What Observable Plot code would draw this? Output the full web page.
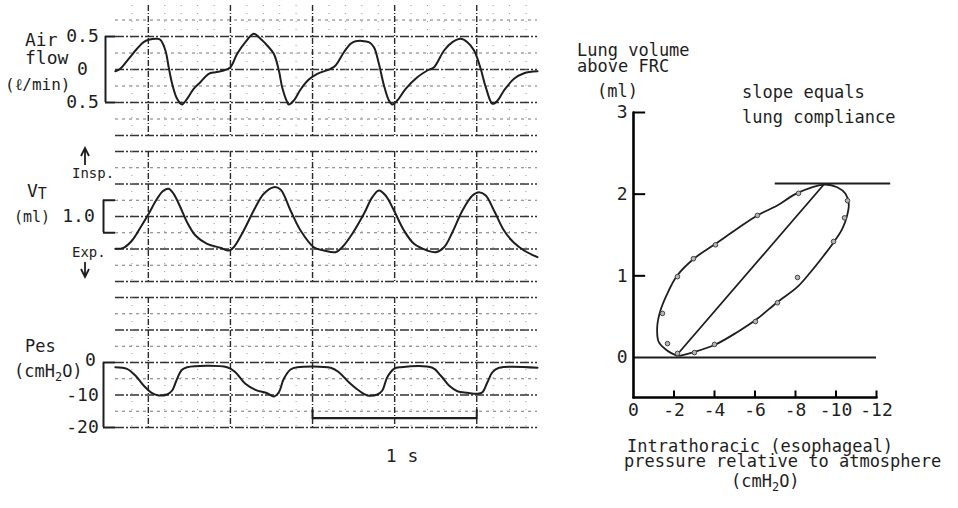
<!DOCTYPE html>
<html><head><meta charset="utf-8">
<script src="https://cdn.jsdelivr.net/npm/d3@7"></script>
<script src="https://cdn.jsdelivr.net/npm/@observablehq/plot@0.6"></script>
<style>
html,body{margin:0;padding:0;background:#fff;}
#fig{position:relative;width:958px;height:508px;overflow:hidden;background:#fff;font-family:"DejaVu Sans Mono",monospace;color:#1c1c1c;}
</style></head>
<body><div id="fig"></div>
<script>
// ---------------- DATA ----------------
// time in seconds (vertical grid every 0.5 s), values in panel units
const airflow = [ // l/min
 [-0.201,-0.026],[-0.171,0.011],[-0.120,0.162],[-0.069,0.314],[-0.029,0.414],[0.002,0.450],[0.053,0.465],[0.073,0.450],
 [0.104,0.288],[0.124,0.035],[0.145,-0.217],[0.175,-0.444],[0.205,-0.530],[0.236,-0.444],[0.276,-0.292],[0.317,-0.192],
 [0.368,-0.065],[0.409,-0.041],[0.459,-0.015],[0.500,0.035],[0.541,0.238],[0.591,0.414],[0.642,0.541],[0.683,0.465],
 [0.724,0.364],[0.764,0.238],[0.795,-0.015],[0.815,-0.268],[0.846,-0.495],[0.855,-0.530],[0.886,-0.470],[0.927,-0.303],
 [0.977,-0.152],[1.029,-0.065],[1.110,0.011],[1.140,0.061],[1.191,0.262],[1.232,0.389],[1.262,0.429],[1.343,0.414],
 [1.374,0.338],[1.404,0.086],[1.435,-0.242],[1.465,-0.470],[1.486,-0.530],[1.516,-0.470],[1.567,-0.292],[1.638,-0.117],
 [1.699,-0.015],[1.740,0.035],[1.801,0.288],[1.852,0.414],[1.902,0.465],[1.943,0.414],[1.984,0.288],[2.024,0.011],
 [2.055,-0.268],[2.096,-0.520],[2.127,-0.470],[2.166,-0.318],[2.227,-0.141],[2.288,-0.056],[2.370,-0.026]
];
const tidalVolume = [ // ml
 [-0.201,0.006],[-0.151,0.037],[-0.099,0.262],[-0.049,0.652],[0.002,1.083],[0.053,1.545],[0.093,1.800],[0.124,1.852],
 [0.154,1.698],[0.195,1.286],[0.236,0.825],[0.287,0.415],[0.358,0.160],[0.439,0.037],[0.490,-0.046],[0.520,0.055],
 [0.581,0.569],[0.642,1.185],[0.703,1.698],[0.764,1.902],[0.805,1.831],[0.866,1.185],[0.927,0.569],[1.008,0.055],
 [1.069,-0.046],[1.140,-0.098],[1.181,0.055],[1.242,0.468],[1.313,1.083],[1.364,1.594],[1.404,1.800],[1.445,1.646],
 [1.496,1.185],[1.557,0.569],[1.618,0.160],[1.699,-0.046],[1.750,-0.098],[1.801,0.055],[1.852,0.517],[1.913,1.185],
 [1.974,1.646],[2.014,1.748],[2.055,1.646],[2.105,1.185],[2.166,0.569],[2.227,0.190],[2.288,-0.046],[2.370,-0.252]
];
const esophagealPressure = [ // cmH2O
 [-0.201,-1.45],[-0.130,-1.94],[-0.079,-4.0],[-0.029,-7.08],[0.023,-9.45],[0.063,-10.15],[0.114,-9.85],[0.145,-8.62],
 [0.175,-5.02],[0.205,-2.25],[0.236,-1.45],[0.480,-1.45],[0.530,-2.98],[0.591,-6.55],[0.652,-8.40],[0.724,-9.45],
 [0.764,-10.46],[0.795,-9.14],[0.825,-5.02],[0.866,-2.15],[0.907,-1.45],[1.110,-1.63],[1.160,-2.98],[1.221,-6.06],
 [1.282,-8.62],[1.334,-10.15],[1.395,-9.85],[1.425,-8.62],[1.455,-4.52],[1.496,-1.94],[1.537,-1.45],[1.730,-1.63],
 [1.780,-4.0],[1.831,-7.08],[1.882,-8.83],[1.943,-9.32],[2.004,-9.63],[2.035,-9.14],[2.065,-6.06],[2.096,-2.98],
 [2.136,-1.63],[2.370,-1.63]
];
const scaleBar = [[1.0,-17.1],[2.0,-17.1]]; // "1 s"

// pressure-volume loop: [pressure cmH2O, volume ml]
const pvLoop = [
 [-2.12,0.024],[-1.66,0.086],[-1.25,0.187],[-1.17,0.371],[-1.33,0.575],[-1.74,0.820],[-2.16,1.004],[-2.98,1.209],
 [-4.05,1.392],[-5.12,1.576],[-6.11,1.739],[-7.10,1.861],[-8.08,2.012],[-9.40,2.118],[-10.06,2.085],[-10.47,2.004],
 [-10.63,1.882],[-10.55,1.739],[-10.31,1.576],[-9.89,1.412],[-9.40,1.249],[-8.74,1.044],[-8.08,0.861],[-7.10,0.677],
 [-6.11,0.474],[-5.12,0.310],[-4.05,0.159],[-2.98,0.065],[-2.32,0.024],[-2.12,0.024]
];
const complianceLine = [[-2.12,0.024],[-9.40,2.118]];
const pvPoints = [
 [-1.43,0.54],[-1.68,0.17],[-2.17,0.99],[-2.96,1.21],[-4.05,1.38],[-6.12,1.74],[-8.15,2.01],[-10.57,1.92],
 [-10.42,1.71],[-9.88,1.42],[-8.10,0.98],[-7.11,0.67],[-6.02,0.44],[-4.00,0.16],[-3.01,0.06],[-2.17,0.05]
];
const endInspLevel = 2.13, endInspFrom = -7.0, endInspTo = -12.7;

// ticks / labels
const timeDomain = [-0.2, 2.37];
const timeMajor = [0, 0.5, 1, 1.5, 2];
const timeMinor = [-0.1,0.1,0.2,0.3,0.4,0.6,0.7,0.8,0.9,1.1,1.2,1.3,1.4,1.6,1.7,1.8,1.9,2.1,2.2,2.3];
const airTicks = [0.5, 0, -0.5], airLabels = ["0.5","0","0.5"];
const airGridMajor = [0.5, 0, -0.5, -1.0], airGridMinor = [0.75, 0.25, -0.25, -0.75];
const vtTicks = [1.0], vtLabels = ["1.0"], vtBracket = [0.5, 1.5];
const vtGridMajor = [3, 2, 1, 0, -1], vtGridMinor = [2.5, 1.5, 0.5, -0.5];
const pesTicks = [-10, -20], pesLabels = ["-10","-20"], pesZero = [0], pesBracket = [0, -20];
const pesGridMajor = [20, 10, 0, -10, -20], pesGridMinor = [15, 5, -5, -15];
const pvXDomain = [0, -12], pvYDomain = [-0.49, 3];
const pvYTicks = [0,1,2,3], pvYLabels = ["0","1","2","3"];
const pvXTicks = [0,-2,-4,-6,-8,-10,-12], pvXLabels = ["0","-2","-4","-6","-8","-10","-12"];

// ---------------- DRAW ----------------
const fig = document.getElementById("fig");
const INK = "#1e1e1e";
const FONT = "'DejaVu Sans Mono', monospace";
const baseStyle = {fontFamily: FONT, fontSize: "18px", background: "transparent"};
function place(el, left, top) {
  el.style.position = "absolute"; el.style.left = left + "px"; el.style.top = top + "px";
  fig.appendChild(el);
}
const X = d => d[0], Y = d => d[1];
function grid(major, minor) {
  return [
    Plot.ruleY(minor, {stroke: "#777", strokeWidth: 1, strokeDasharray: "3,4"}),
    Plot.ruleY(major, {stroke: "#333", strokeWidth: 1.4, strokeDasharray: "9,2,2,2"}),
    Plot.ruleX(timeMinor, {stroke: "#999", strokeWidth: 1, strokeDasharray: "1,7"}),
    Plot.ruleX(timeMajor, {stroke: "#2a2a2a", strokeWidth: 1.4, strokeDasharray: "6,2,1,2"})
  ];
}
const stripOpts = {width: 545, marginLeft: 115, marginRight: 8, marginTop: 5, style: baseStyle,
  x: {domain: timeDomain, axis: null}};

const airPlot = Plot.plot({...stripOpts, height: 140, marginBottom: 5,
  y: {domain: [-1, 0.97]},
  marks: [
    ...grid(airGridMajor, airGridMinor),
    Plot.axisY(airTicks, {tickSize: 0, tickPadding: 33, textAnchor: "middle", label: null, fill: INK,
      tickFormat: d => airLabels[airTicks.indexOf(d)]}),
    Plot.axisY([0.5, -0.5], {tickSize: 10, fill: "none", stroke: INK, label: null, strokeWidth: 2}),
    Plot.ruleX([timeDomain[0]], {y1: -0.5, y2: 0.5, dx: -10, strokeWidth: 2, stroke: INK}),
    Plot.line(airflow, {x: X, y: Y, curve: "catmull-rom", stroke: INK, strokeWidth: 2})
  ]});
place(airPlot, 0, 0);

const vtPlot = Plot.plot({...stripOpts, height: 140, marginBottom: 5,
  y: {domain: [-1, 3]},
  marks: [
    ...grid(vtGridMajor, vtGridMinor),
    Plot.axisY(vtTicks, {tickSize: 0, tickPadding: 37, textAnchor: "middle", label: null, fill: INK,
      tickFormat: d => vtLabels[vtTicks.indexOf(d)]}),
    Plot.axisY(vtBracket, {tickSize: 12, fill: "none", stroke: INK, label: null, strokeWidth: 2}),
    Plot.ruleX([timeDomain[0]], {y1: vtBracket[0], y2: vtBracket[1], dx: -12, strokeWidth: 2, stroke: INK}),
    Plot.line(tidalVolume, {x: X, y: Y, curve: "catmull-rom", stroke: INK, strokeWidth: 2})
  ]});
place(vtPlot, 0, 146);

const pesPlot = Plot.plot({...stripOpts, height: 175, marginBottom: 40,
  y: {domain: [-20, 20]},
  marks: [
    ...grid(pesGridMajor, pesGridMinor),
    Plot.axisY(pesTicks, {tickSize: 0, tickPadding: 33, textAnchor: "middle", label: null, fill: INK,
      tickFormat: d => pesLabels[pesTicks.indexOf(d)]}),
    Plot.axisY(pesZero, {tickSize: 0, tickPadding: 25, textAnchor: "middle", label: null, dy: -2, fill: INK,
      tickFormat: () => "0"}),
    Plot.axisY(pesBracket, {tickSize: 12, fill: "none", stroke: INK, label: null, strokeWidth: 2}),
    Plot.ruleX([timeDomain[0]], {y1: pesBracket[1], y2: pesBracket[0], dx: -12, strokeWidth: 2, stroke: INK}),
    Plot.line(scaleBar, {x: X, y: Y, stroke: INK, strokeWidth: 2.2}),
    Plot.ruleX(scaleBar, {x: X, y1: Y, y2: d => d[1] + 2.5, stroke: INK, strokeWidth: 2}),
    Plot.line(esophagealPressure, {x: X, y: Y, curve: "catmull-rom", stroke: INK, strokeWidth: 2})
  ]});
place(pesPlot, 0, 292);

const yAxisLine = [[pvXDomain[0], pvYDomain[0]], [pvXDomain[0], pvYDomain[1]]];
const xAxisLine = [[pvXDomain[0], pvYDomain[0]], [pvXDomain[1], pvYDomain[0]]];
const pvPlot = Plot.plot({width: 346, height: 337, marginLeft: 73, marginRight: 30, marginTop: 22, marginBottom: 30,
  style: baseStyle,
  x: {domain: pvXDomain, axis: null},
  y: {domain: pvYDomain, axis: null},
  marks: [
    Plot.ruleY([0], {stroke: INK, strokeWidth: 2}),
    Plot.ruleY([endInspLevel], {x1: endInspFrom, x2: endInspTo, stroke: INK, strokeWidth: 2}),
    Plot.axisY(pvYTicks, {tickSize: 0, tickPadding: 6, label: null, fill: INK,
      tickFormat: d => pvYLabels[pvYTicks.indexOf(d)]}),
    Plot.axisX(pvXTicks, {tickSize: 0, tickPadding: 6, label: null, fill: INK,
      tickFormat: d => pvXLabels[pvXTicks.indexOf(d)]}),
    Plot.line(pvLoop, {x: X, y: Y, curve: "catmull-rom", stroke: INK, strokeWidth: 1.8}),
    Plot.line(complianceLine, {x: X, y: Y, stroke: INK, strokeWidth: 1.8}),
    Plot.ruleY(pvYTicks.slice(1), {x1: pvXDomain[0], x2: -0.6, stroke: "black", strokeWidth: 2}),
    Plot.ruleX(pvXTicks.slice(1), {y1: pvYDomain[0], y2: -0.41, stroke: "black", strokeWidth: 2}),
    Plot.line(yAxisLine, {x: X, y: Y, stroke: "black", strokeWidth: 2.6}),
    Plot.line(xAxisLine, {x: X, y: Y, stroke: "black", strokeWidth: 2.6}),
    Plot.dot(pvPoints, {x: X, y: Y, r: 2.3, fill: "#b5b5b5", stroke: "#444", strokeWidth: 1})
  ]});
place(pvPlot, 560, 90);

// ---------------- TEXT OVERLAY ----------------
const svg = d3.create("svg").attr("width", 958).attr("height", 508)
  .style("position", "absolute").style("left", "0px").style("top", "0px")
  .style("pointer-events", "none")
  .attr("font-family", FONT);
const labels = [
  {t: "Air", x: 25, y: 46, s: 18},
  {t: "flow", x: 25, y: 64, s: 18},
  {t: "(ℓ/min)", x: 5, y: 90, s: 16},
  {t: "Insp.", x: 72, y: 178, s: 14},
  {t: "(ml)", x: 14, y: 222, s: 15},
  {t: "Exp.", x: 72, y: 257, s: 14},
  {t: "Pes", x: 25, y: 352, s: 17},
  {t: "1 s", x: 402, y: 462, s: 18, a: "middle"},
  {t: "Lung volume", x: 577, y: 56, s: 17},
  {t: "above FRC", x: 577, y: 72, s: 17},
  {t: "(ml)", x: 597, y: 97, s: 17},
  {t: "slope equals", x: 742, y: 98, s: 17},
  {t: "lung compliance", x: 742, y: 123, s: 17},
  {t: "Intrathoracic (esophageal)", x: 627, y: 452, s: 17},
  {t: "pressure relative to atmosphere", x: 624, y: 467, s: 17}
];
svg.selectAll("text.l").data(labels).join("text").attr("class", "l")
  .attr("x", d => d.x).attr("y", d => d.y).attr("font-size", d => d.s).attr("fill", INK)
  .attr("text-anchor", d => d.a || "start").text(d => d.t);
// V_T
const vt = svg.append("text").attr("x", 27).attr("y", 197).attr("font-size", 18).attr("fill", INK);
vt.append("tspan").text("V");
vt.append("tspan").attr("font-size", 15).attr("dy", 2).text("T");
// (cmH2O) labels
function cmH2O(x, y, s) {
  const t = svg.append("text").attr("x", x).attr("y", y).attr("font-size", s).attr("fill", INK);
  t.append("tspan").text("(cmH");
  t.append("tspan").attr("font-size", s * 0.7).attr("dy", 4).text("2");
  t.append("tspan").attr("dy", -4).text("O)");
}
cmH2O(14, 377, 17);
cmH2O(731, 487, 17);
// arrows
svg.append("path").attr("d", "M85,165V150M81,156L85,148L89,156").attr("stroke", INK).attr("stroke-width", 1.8).attr("fill", "none");
svg.append("path").attr("d", "M85,262V276M81,269L85,277L89,269").attr("stroke", INK).attr("stroke-width", 1.8).attr("fill", "none");
fig.appendChild(svg.node());
</script>
</body></html>
